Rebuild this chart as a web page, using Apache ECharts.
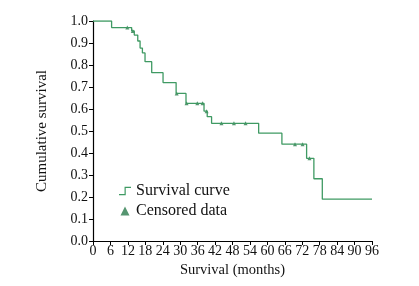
<!DOCTYPE html>
<html><head><meta charset="utf-8">
<script src="https://cdn.jsdelivr.net/npm/echarts@6/dist/echarts.min.js"></script>
<style>html,body{margin:0;padding:0;background:#fff}#c{width:419px;height:286px}</style>
</head><body><div id="c"></div>
<script>
// Kaplan-Meier step points: time (months) and survival after the drop
var stepTimes = [0, 6.4, 13.3, 14.2, 15.4, 16.2, 17.0, 17.9, 20.2, 24.1, 28.6, 32.0, 38.2, 39.3, 40.8, 57.0, 65.0, 73.5, 76.0, 78.9, 96];
var stepSurv  = [1.0, 0.97, 0.955, 0.936, 0.909, 0.877, 0.855, 0.815, 0.765, 0.72, 0.671, 0.626, 0.59, 0.565, 0.535, 0.49, 0.44, 0.376, 0.283, 0.19, 0.19];
// censored observations
var censTimes = [11.8, 13.7, 28.8, 32.2, 35.9, 37.7, 39.1, 44.2, 48.5, 52.5, 69.5, 72.1, 74.5];
var censSurv  = [0.97, 0.955, 0.671, 0.626, 0.626, 0.626, 0.59, 0.535, 0.535, 0.535, 0.44, 0.44, 0.376];
var xTicks = {min: 0, max: 96, interval: 6};
var yTicks = {min: 0, max: 1, interval: 0.1};

var font = 'Liberation Serif';
var lineColor = '#3f9a63';
var markColor = '#2a7a4c';
var chart = echarts.init(document.getElementById('c'));
chart.setOption({
  animation: false,
  grid: {left: 93, right: 47, top: 21, bottom: 45},
  legend: {
    orient: 'vertical', left: 114, top: 178, itemGap: 4, itemWidth: 12, itemHeight: 9,
    textStyle: {fontFamily: font, fontSize: 16, color: '#111'},
    data: [
      {name: 'Survival curve', icon: 'path://M0,8 L6,8 L6,0 L13,0 L13,1.3 L7.3,1.3 L7.3,9.3 L0,9.3 Z'},
      {name: 'Censored data', icon: 'path://M3,3 L6,9 L0,9 Z'}
    ]
  },
  xAxis: {
    type: 'value', min: xTicks.min, max: xTicks.max, interval: xTicks.interval,
    name: 'Survival (months)', nameLocation: 'middle', nameGap: 21,
    nameTextStyle: {fontFamily: font, fontSize: 14.5, color: '#111'},
    axisLine: {lineStyle: {color: '#000', width: 1.2}},
    axisTick: {length: 4, lineStyle: {color: '#000'}},
    axisLabel: {fontFamily: font, fontSize: 14, color: '#111', margin: 3, interval: 0, hideOverlap: false},
    splitLine: {show: false}
  },
  yAxis: {
    type: 'value', min: yTicks.min, max: yTicks.max, interval: yTicks.interval,
    name: 'Cumulative survival', nameLocation: 'middle', nameGap: 43,
    nameTextStyle: {fontFamily: font, fontSize: 15, color: '#111'},
    axisLine: {show: true, lineStyle: {color: '#000', width: 1.2}},
    axisTick: {show: true, length: 4, lineStyle: {color: '#000'}},
    axisLabel: {fontFamily: font, fontSize: 14, color: '#111', margin: 5,
      formatter: function (v) { return v.toFixed(1); }},
    splitLine: {show: false}
  },
  series: [
    {
      name: 'Survival curve', type: 'line', step: 'end', showSymbol: false,
      itemStyle: {color: lineColor},
      lineStyle: {color: lineColor, width: 1.3},
      data: stepTimes.map(function (t, i) { return [t, stepSurv[i]]; })
    },
    {
      name: 'Censored data', type: 'scatter', symbol: 'triangle', symbolSize: 4,
      itemStyle: {color: markColor},
      data: censTimes.map(function (t, i) { return [t, censSurv[i]]; })
    }
  ]
});
</script></body></html>
